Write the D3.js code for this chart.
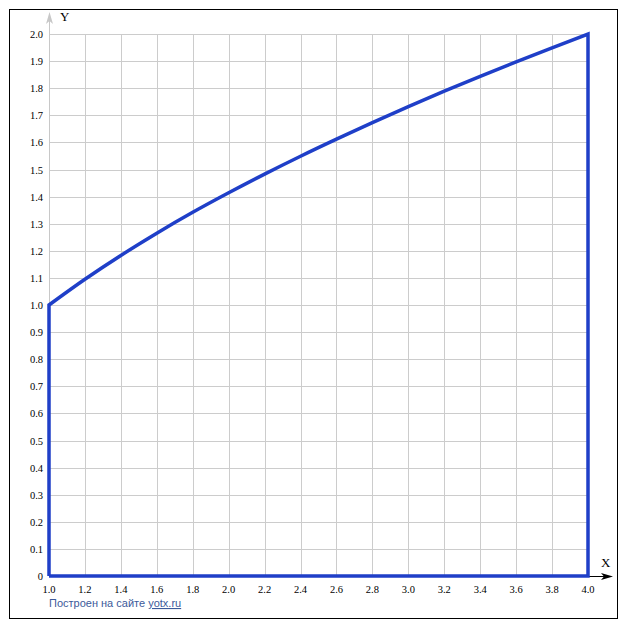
<!DOCTYPE html>
<html><head><meta charset="utf-8">
<script src="https://cdn.jsdelivr.net/npm/d3@7"></script>
<style>body{margin:0;background:#fff}</style>
</head><body>
<svg id="c" width="627" height="630"></svg>
<script>
const xValues = [1.0,1.2,1.4,1.6,1.8,2.0,2.2,2.4,2.6,2.8,3.0,3.2,3.4,3.6,3.8,4.0];
const yValues = [1.0,1.095,1.183,1.265,1.342,1.414,1.483,1.549,1.612,1.673,1.732,1.789,1.844,1.897,1.949,2.0];
const xTicks = [1.0,1.2,1.4,1.6,1.8,2.0,2.2,2.4,2.6,2.8,3.0,3.2,3.4,3.6,3.8,4.0];
const yTicks = [0,0.1,0.2,0.3,0.4,0.5,0.6,0.7,0.8,0.9,1.0,1.1,1.2,1.3,1.4,1.5,1.6,1.7,1.8,1.9,2.0];

const svg = d3.select("#c");
const x = d3.scaleLinear().domain([1,4]).range([49,588]);
const y = d3.scaleLinear().domain([0,2]).range([576,34]);

svg.append("rect").attr("x",9.5).attr("y",9.5).attr("width",608).attr("height",609)
  .attr("fill","none").attr("stroke","#000").attr("stroke-width",1);

const g = svg.append("g");
g.selectAll("line.vx").data(xTicks).join("line")
  .attr("x1",d=>Math.round(x(d))+0.5).attr("x2",d=>Math.round(x(d))+0.5)
  .attr("y1",y(2)).attr("y2",y(0)).attr("stroke","#cccccc");
g.selectAll("line.hy").data(yTicks).join("line")
  .attr("y1",d=>Math.round(y(d))+0.5).attr("y2",d=>Math.round(y(d))+0.5)
  .attr("x1",x(1)).attr("x2",x(4)).attr("stroke","#cccccc");

// y axis (gray) with arrow
svg.append("line").attr("x1",x(1)+0.5).attr("x2",x(1)+0.5).attr("y1",y(0)).attr("y2",20)
  .attr("stroke","#c8c8c8").attr("stroke-width",1);
svg.append("path").attr("d",`M${x(1)+0.5},12 L${x(1)-3},24 L${x(1)+0.5},21 L${x(1)+4},24 Z`).attr("fill","#c8c8c8");
// x axis (black) with arrow
svg.append("line").attr("x1",x(1)).attr("x2",606).attr("y1",y(0)+0.5).attr("y2",y(0)+0.5)
  .attr("stroke","#000").attr("stroke-width",1);
svg.append("path").attr("d",`M613,${y(0)+0.5} L601,${y(0)-3} L604,${y(0)+0.5} L601,${y(0)+4} Z`).attr("fill","#000");

// tick labels
svg.selectAll("text.yt").data(yTicks).join("text")
  .attr("x",43).attr("y",d=>y(d)+4).attr("text-anchor","end")
  .attr("font-family","Liberation Serif, Times New Roman, serif").attr("font-size",10.5).attr("fill","#000")
  .text(d=>d===0?"0":d3.format(".1f")(d));
svg.selectAll("text.xt").data(xTicks).join("text")
  .attr("x",d=>x(d)).attr("y",593).attr("text-anchor","middle")
  .attr("font-family","Liberation Serif, Times New Roman, serif").attr("font-size",10.5).attr("fill","#000")
  .text(d=>d3.format(".1f")(d));
svg.append("text").attr("x",60).attr("y",21).attr("font-family","Liberation Serif, serif").attr("font-size",13).text("Y");
svg.append("text").attr("x",601).attr("y",567).attr("font-family","Liberation Serif, serif").attr("font-size",13).text("X");

// curve + boundaries
const pts = xValues.map((v,i)=>[v,yValues[i]]);
const line = d3.line().x(d=>x(d[0])).y(d=>y(d[1])).curve(d3.curveMonotoneX);
svg.append("path")
  .attr("d", d3.line().x(d=>x(d[0])).y(d=>y(d[1]))([[xValues[0],0],[xValues[0],yValues[0]]]) +
    line(pts).replace(/^M/,"L") + d3.line().x(d=>x(d[0])).y(d=>y(d[1]))([[4,2],[4,0],[1,0]]).replace(/^M/,"L"))
  .attr("fill","none").attr("stroke","#1f3fc8").attr("stroke-width",3.5).attr("stroke-linejoin","miter");

// footer
const ft = svg.append("text").attr("x",49).attr("y",607).attr("font-family","Liberation Sans, Arial, sans-serif")
  .attr("font-size",11).attr("fill","#3c5a9a");
ft.append("tspan").text("Построен на сайте ");
ft.append("tspan").attr("text-decoration","underline").text("yotx.ru");
</script>
</body></html>
